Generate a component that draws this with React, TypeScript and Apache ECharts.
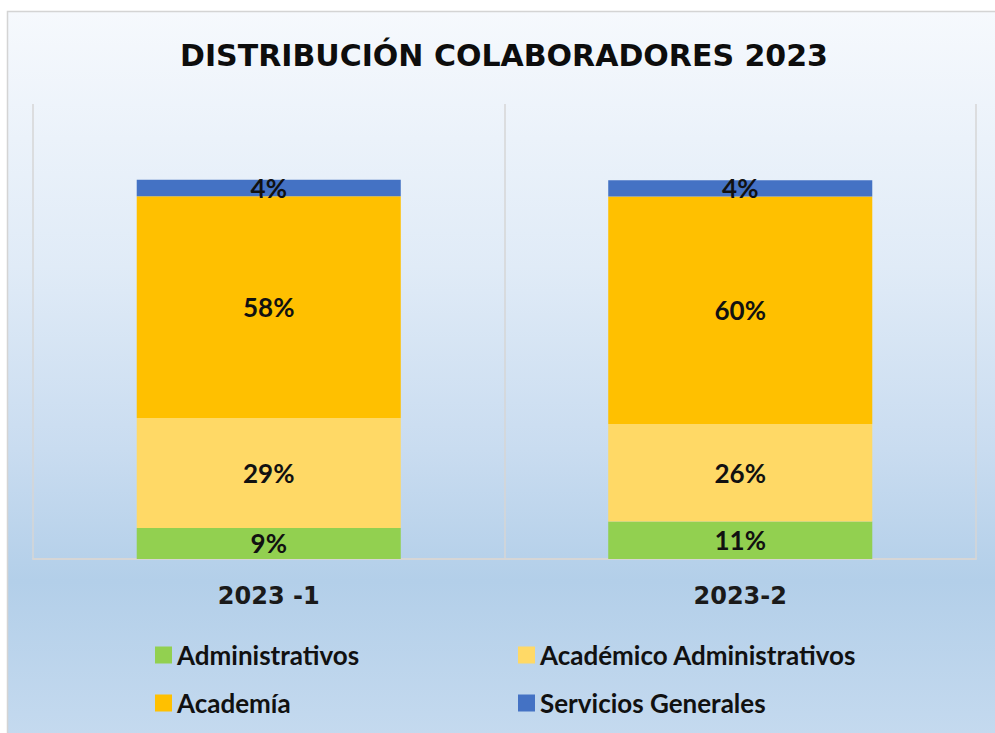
import React, { useEffect, useRef } from "react";
import * as echarts from "echarts";

const categories = ["2023 -1", "2023-2"];
const seriesNames = ["Administrativos", "Académico Administrativos", "Academía", "Servicios Generales"];
const administrativos = [8.2, 9.9];
const academicoAdministrativos = [29.0, 25.7];
const academia = [58.5, 60.0];
const serviciosGenerales = [4.3, 4.3];
const labelsAdministrativos = ["9%", "11%"];
const labelsAcademicoAdm = ["29%", "26%"];
const labelsAcademia = ["58%", "60%"];
const labelsServicios = ["4%", "4%"];
const colors = ["#92D050", "#FFD966", "#FFC000", "#4472C4"];
const titleText = "DISTRIBUCIÓN COLABORADORES 2023";

export default function App() {
  const ref = useRef<HTMLDivElement>(null);
  useEffect(() => {
    if (!ref.current) return;
    const chart = echarts.init(ref.current, undefined, { renderer: "svg" });
    const values = [administrativos, academicoAdministrativos, academia, serviciosGenerales];
    const labels = [labelsAdministrativos, labelsAcademicoAdm, labelsAcademia, labelsServicios];
    const legendText = {
      fontFamily: "Lato",
      fontWeight: "bold" as const,
      fontSize: 26,
      color: "#111111",
    };
    const legendPos = [
      { left: 150, top: 637 },
      { left: 513, top: 637 },
      { left: 150, top: 685 },
      { left: 513, top: 685 },
    ];
    chart.setOption({
      animation: false,
      backgroundColor: "#ffffff",
      graphic: [
        {
          type: "rect",
          z: -10,
          silent: true,
          shape: { x: 7.5, y: 11.5, width: 1000, height: 730 },
          style: {
            fill: new echarts.graphic.LinearGradient(0, 0, 0, 1, [
              { offset: 0, color: "#F6F9FD" },
              { offset: 0.35, color: "#E0EBF7" },
              { offset: 0.6, color: "#C9DCF0" },
              { offset: 0.78, color: "#B3CFE9" },
              { offset: 1, color: "#C5DAEF" },
            ]),
            stroke: "#D4D4D4",
            lineWidth: 1.5,
          },
        },
      ],
      title: {
        text: titleText,
        left: 499,
        top: 35,
        textAlign: "center",
        textStyle: {
          fontFamily: "DejaVu Sans",
          fontWeight: "bold",
          fontSize: 30,
          color: "#0D0D0D",
        },
      },
      legend: seriesNames.map((name, i) => ({
        data: [name],
        left: legendPos[i].left,
        top: legendPos[i].top,
        itemWidth: 17,
        itemHeight: 17,
        icon: "rect",
        textStyle: legendText,
      })),
      grid: { left: 33, right: 19, top: 104, bottom: 174, containLabel: false },
      xAxis: {
        type: "category",
        data: categories,
        axisLine: { show: true, lineStyle: { color: "#D6D6D6", width: 2 } },
        axisTick: { show: false },
        splitLine: { show: true, lineStyle: { color: "#D6D6D6", width: 1.5 } },
        axisLabel: {
          margin: 25,
          fontFamily: "DejaVu Sans",
          fontWeight: "bold",
          fontSize: 24,
          color: "#1A1A1A",
        },
      },
      yAxis: {
        type: "value",
        min: 0,
        max: 120,
        show: false,
        splitLine: { show: false },
      },
      series: seriesNames.map((name, i) => ({
        name,
        type: "bar",
        stack: "total",
        barWidth: "56%",
        data: values[i],
        itemStyle: { color: colors[i] },
        label: {
          show: true,
          position: "inside",
          fontFamily: "Lato",
          fontWeight: "bold",
          fontSize: 26,
          color: "#111111",
          formatter: (p: any) => labels[i][p.dataIndex],
        },
      })),
    });
    return () => chart.dispose();
  }, []);
  return (
    <div
      ref={ref}
      style={{ position: "fixed", left: 0, top: 0, width: 995, height: 733 }}
    />
  );
}
